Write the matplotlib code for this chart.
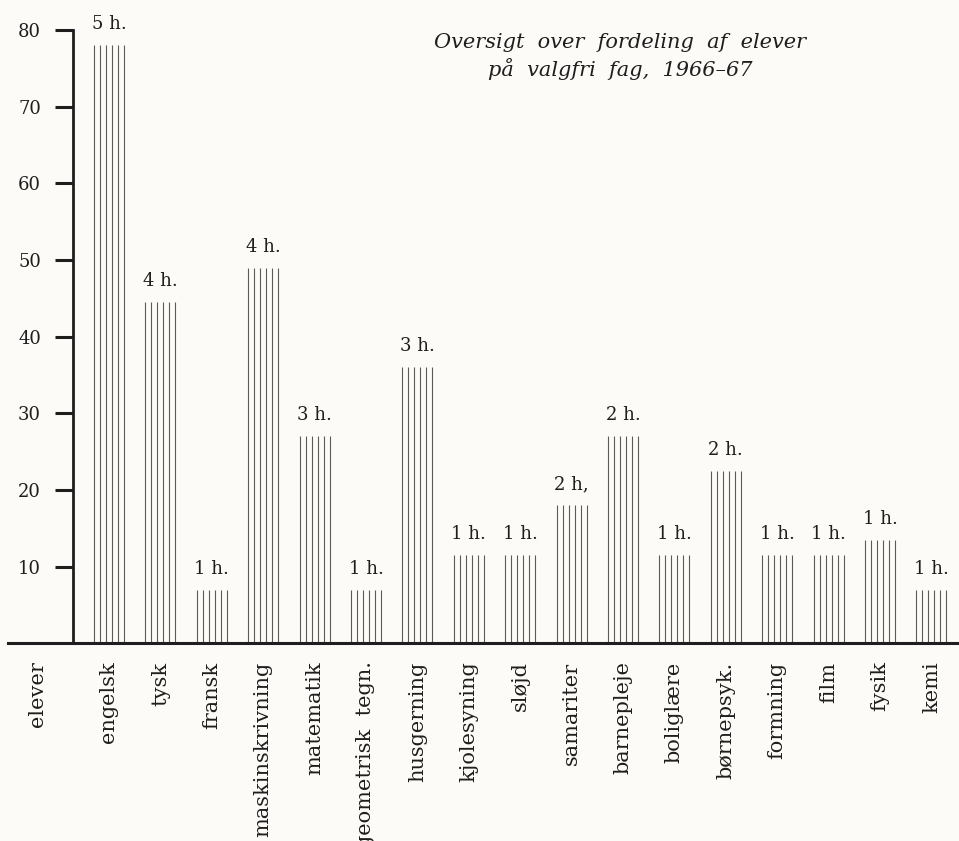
import numpy as np
import matplotlib
matplotlib.use("Agg")
from matplotlib import pyplot as plt

# fag og antal elever
fag = ['engelsk', 'tysk', 'fransk', 'maskinskrivning', 'matematik',
       'geometrisk  tegn.', 'husgerning', 'kjolesyning', 'sløjd', 'samariter',
       'barnepleje', 'boliglære', 'børnepsyk.', 'formning', 'film', 'fysik', 'kemi']
elever = [78, 44.5, 7, 49, 27, 7, 36, 11.5, 11.5, 18, 27, 11.5, 22.5, 11.5, 11.5, 13.5, 7]
timer = ['5 h.', '4 h.', '1 h.', '4 h.', '3 h.', '1 h.', '3 h.', '1 h.', '1 h.', '2 h,',
         '2 h.', '1 h.', '2 h.', '1 h.', '1 h.', '1 h.', '1 h.']
yticks = [10, 20, 30, 40, 50, 60, 70, 80]

paper = '#fcfbf7'
ink = '#1e1e1e'
serif = 'DejaVu Serif'

fig = plt.figure(figsize=(9.59, 8.41), dpi=100, facecolor=paper)
W, H = 959, 841
# akse: fra x=8 til hoejre kant, y=0 ved pixel 643, y=80 ved pixel 30
ax = fig.add_axes([8 / W, (H - 643.4) / H, 951 / W, 613.4 / H])
ax.set_facecolor(paper)

px = 51.4  # pixel pr. soejle
x = np.arange(len(fag))
ax.set_xlim((8 - 109) / px, (959 - 109) / px)
ax.set_ylim(0, 80)

# hver soejle tegnes som 6 lodrette streger
step = 6 / px
for xi, v in zip(x, elever):
    xs = xi + np.linspace(-2.5, 2.5, 6) * step
    ax.vlines(xs, 0, v, color='#5a5a5a', linewidth=0.8)

for xi, v, t in zip(x, elever, timer):
    ax.annotate(t, (xi, v), xytext=(0, 11.5), textcoords='offset points',
                ha='center', va='baseline', fontsize=13, family=serif, color=ink)

# akser
for s in ['top', 'right']:
    ax.spines[s].set_visible(False)
ax.spines['left'].set_position(('data', (73 - 109) / px))
ax.spines['left'].set_bounds(0, 80)
ax.spines['left'].set_linewidth(2.0)
ax.spines['left'].set_color(ink)
ax.spines['bottom'].set_linewidth(2.2)
ax.spines['bottom'].set_color(ink)

ax.set_yticks(yticks)
ax.set_yticklabels([str(v) for v in yticks], family=serif, fontsize=13, color=ink)
ax.tick_params(axis='y', direction='out', length=13, width=2.2, color=ink, pad=10)

# kategorier under grundlinjen, inkl. "elever"
ax.set_xticks(np.concatenate([[(38 - 109) / px], x]))
ax.set_xticklabels(['elever'] + fag, rotation=90, family=serif, fontsize=15,
                   color=ink, va='top', ha='center')
ax.tick_params(axis='x', length=0, pad=13)

# titel
fig.text(620 / W, 1 - 48 / H, 'Oversigt  over  fordeling  af  elever', ha='center',
         va='baseline', family=serif, style='italic', fontsize=15, color=ink)
fig.text(620 / W, 1 - 76 / H, 'på  valgfri  fag,  1966–67', ha='center',
         va='baseline', family=serif, style='italic', fontsize=15, color=ink)

fig.savefig('out.png', dpi=100, facecolor=paper)
